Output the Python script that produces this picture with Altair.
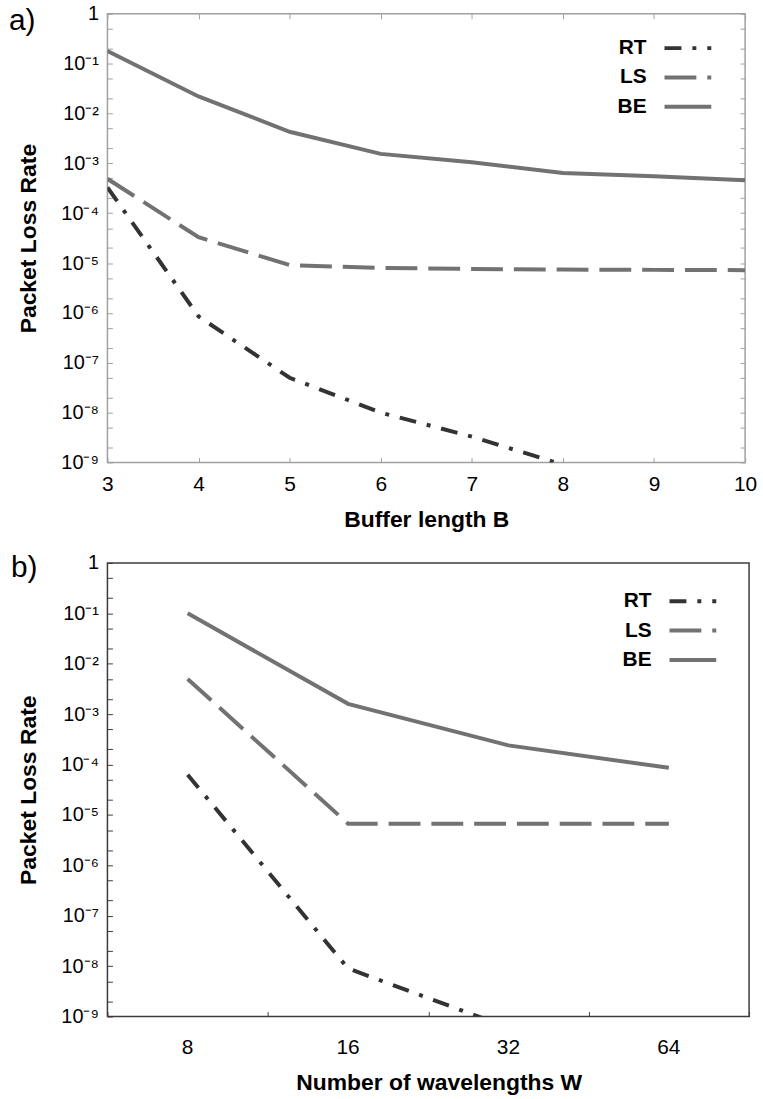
import altair as alt
import pandas as pd

FONT = "Liberation Sans"

SERIES = ["RT", "LS", "BE"]
COLORS = ["#333333", "#727272", "#727272"]
DASHES = [[17, 11, 4, 11], [32, 11], [1000, 0]]

# ---- panel a: Buffer length B ----
B_VALUES = [3, 4, 5, 6, 7, 8, 9, 10]
RT_A = [3.3e-4, 8.5e-7, 5.0e-8, 1.0e-8, 3.3e-9, 9.0e-10]
LS_A = [4.9e-4, 3.3e-5, 9.1e-6, 8.0e-6, 7.6e-6, 7.4e-6, 7.3e-6, 7.2e-6]
BE_A = [0.18, 2.2e-2, 4.3e-3, 1.55e-3, 1.05e-3, 6.4e-4, 5.5e-4, 4.6e-4]

# ---- panel b: Number of wavelengths W ----
W_VALUES = [8, 16, 32, 64]
RT_B = [6.3e-5, 9.0e-9, 6.0e-10]
LS_B = [5.0e-3, 6.7e-6, 6.7e-6, 6.7e-6]
BE_B = [0.1, 1.6e-3, 2.4e-4, 8.6e-5]

# ---- y axis ----
Y_MAJOR = [1, 1e-1, 1e-2, 1e-3, 1e-4, 1e-5, 1e-6, 1e-7, 1e-8, 1e-9]
Y_LABELS = ["1", "10⁻¹", "10⁻²", "10⁻³", "10⁻⁴", "10⁻⁵", "10⁻⁶", "10⁻⁷", "10⁻⁸", "10⁻⁹"]
Y_MINOR_MULT = [2, 5]
Y_ALL = Y_MAJOR + [m * v for v in Y_MAJOR[1:] for m in Y_MINOR_MULT]


def long_df(xs, cols):
    rows = []
    for name, vals in zip(SERIES, cols):
        for x, v in zip(xs, vals):
            rows.append({"x": x, "rate": v, "series": name})
    return pd.DataFrame(rows)


df_a = long_df(B_VALUES, [RT_A, LS_A, BE_A])
df_b = long_df(W_VALUES, [RT_B, LS_B, BE_B])

expr = "''"
for v, lab in reversed(list(zip(Y_MAJOR, Y_LABELS))):
    expr = f"datum.value > {v * 0.5} ? '{lab}' : {expr}"
Y_LABEL_EXPR = expr

y_scale = alt.Scale(type="log", domain=[1e-9, 1], nice=False)

# legend sample: a horizontal stroke 4.7 units long, drawn at a small nominal
# symbol size so that legend rows stay compact (unit 1 = 10 px at size 400)
LEGEND_SYMBOL = "M-2.35,0H2.35"


def legend(x, y):
    return alt.Legend(
        title=None, orient="none", legendX=x, legendY=y, direction="vertical",
        symbolType=LEGEND_SYMBOL, symbolSize=400, symbolStrokeWidth=4,
        labelFont=FONT, labelFontSize=21, labelFontWeight="bold", labelColor="black",
        labelAlign="right", labelOffset={"expr": "-53.5"}, symbolOffset=0,
        rowPadding=7.5, padding=0,
    )


def enc_style(lg):
    return dict(
        color=alt.Color("series:N", scale=alt.Scale(domain=SERIES, range=COLORS), legend=lg),
        strokeDash=alt.StrokeDash("series:N", scale=alt.Scale(domain=SERIES, range=DASHES), legend=lg),
    )


def label_axis_y():
    return alt.Axis(
        orient="left", values=Y_MAJOR, labelExpr=Y_LABEL_EXPR, ticks=False, domain=False,
        grid=False, labelFont=FONT, labelFontSize=20, labelColor="black", labelPadding=9,
        labelOverlap=False, labelFlush=False,
        title="Packet Loss Rate", titleFont=FONT, titleFontSize=23, titleFontWeight="bold",
        titleColor="black", titlePadding=20,
    )


def label_axis_x(title, values=None, label_pad=11, title_x=None):
    kw = dict(values=values) if values is not None else {}
    if title_x is not None:
        kw["titleX"] = title_x
    return alt.Axis(
        orient="bottom", ticks=False, domain=False, grid=False, labelAngle=0,
        labelFont=FONT, labelFontSize=21, labelColor="black", labelPadding=label_pad,
        labelOverlap=False, labelFlush=False,
        title=title, titleFont=FONT, titleFontSize=23, titleFontWeight="bold",
        titleColor="black", titlePadding=14, **kw,
    )


def tick_axis(orient, color, values=None, band=None):
    kw = {}
    if values is not None:
        kw["values"] = values
    if band is not None:
        kw["tickBand"] = band
    return alt.Axis(
        orient=orient, labels=False, domain=False, grid=False, ticks=True,
        tickSize=5, tickColor=color, tickWidth=1, offset=-5, title=None, **kw,
    )


# ---------------- panel a ----------------
xa_scale = alt.Scale(domain=[3, 10], nice=False, zero=False)
GRAY = "#a0a0a0"

lines_a = alt.Chart(df_a).mark_line(strokeWidth=4, clip=True).encode(
    x=alt.X("x:Q", scale=xa_scale, axis=label_axis_x("Buffer length B", B_VALUES)),
    y=alt.Y("rate:Q", scale=y_scale, axis=label_axis_y()),
    **enc_style(legend(571.5, 22.5)),
)
ghost_a1 = alt.Chart(df_a).mark_line(opacity=0).encode(
    x=alt.X("x:Q", scale=xa_scale, axis=tick_axis("bottom", GRAY, B_VALUES)),
    y=alt.Y("rate:Q", scale=y_scale, axis=tick_axis("left", GRAY, Y_ALL)),
)
ghost_a2 = alt.Chart(df_a).mark_line(opacity=0).encode(
    x=alt.X("x:Q", scale=xa_scale, axis=tick_axis("top", GRAY, B_VALUES)),
    y=alt.Y("rate:Q", scale=y_scale, axis=tick_axis("right", GRAY, Y_ALL)),
)
panel_a = alt.layer(lines_a, ghost_a1, ghost_a2).resolve_axis(
    x="independent", y="independent"
).properties(
    width=641, height=451,
    view=alt.ViewBackground(stroke=GRAY, strokeWidth=1.5),
    title=alt.TitleParams("a)", anchor="start", frame="group", dx=-99, dy=36,
                          fontSize=30, font=FONT, fontWeight="normal", color="black"),
)

# ---------------- panel b ----------------
xb_scale = alt.Scale(type="band", domain=W_VALUES, paddingInner=0, paddingOuter=0)
DARK = "#3c3c3c"

lines_b = alt.Chart(df_b).mark_line(strokeWidth=4, clip=True).encode(
    x=alt.X("x:O", scale=xb_scale, bandPosition=0.5,
            axis=label_axis_x("Number of wavelengths W", label_pad=20, title_x=333)),
    y=alt.Y("rate:Q", scale=y_scale, axis=label_axis_y()),
    **enc_style(legend(576.5, 26.5)),
)
ghost_b = alt.Chart(df_b).mark_line(opacity=0).encode(
    x=alt.X("x:O", scale=xb_scale, bandPosition=0.5,
            axis=tick_axis("bottom", DARK, band="extent")),
    y=alt.Y("rate:Q", scale=y_scale, axis=tick_axis("left", DARK, Y_ALL)),
)
panel_b = alt.layer(lines_b, ghost_b).resolve_axis(
    x="independent", y="independent"
).properties(
    width=645, height=456,
    view=alt.ViewBackground(stroke=DARK, strokeWidth=1.5),
    title=alt.TitleParams("b)", anchor="start", frame="group", dx=-97, dy=34,
                          fontSize=30, font=FONT, fontWeight="normal", color="black"),
)

chart = alt.vconcat(panel_a, panel_b, spacing=20).resolve_scale(
    color="independent", strokeDash="independent"
).configure(
    padding={"left": 8, "top": 0, "right": 5, "bottom": 0},
    background="white",
)

chart.save("out.html", embed_options={"renderer": "svg", "actions": False})
